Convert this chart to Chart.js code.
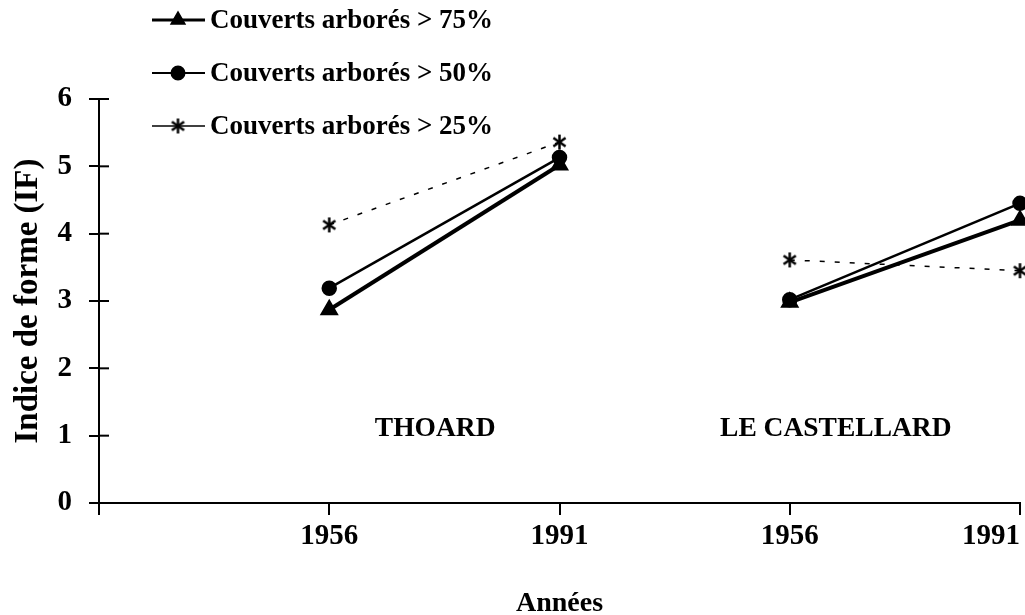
<!DOCTYPE html>
<html>
<head>
<meta charset="utf-8">
<script src="https://cdn.jsdelivr.net/npm/chart.js@4.4.1/dist/chart.umd.min.js"></script>
<style>
  html, body { margin: 0; padding: 0; background: #fff; }
</style>
</head>
<body>
<canvas id="chart" width="1025" height="615"></canvas>
<script>
// ===== Data =====
const years = ["", "1956", "1991", "1956", "1991"];
const sites = ["THOARD", "LE CASTELLARD"];
const seriesNames = ["Couverts arborés > 75%", "Couverts arborés > 50%", "Couverts arborés > 25%"];
const thoard75 = [2.87, 5.02];
const thoard50 = [3.19, 5.13];
const thoard25 = [4.13, 5.36];
const castellard75 = [2.98, 4.20];
const castellard50 = [3.02, 4.45];
const castellard25 = [3.61, 3.45];
const yTicks = [0, 1, 2, 3, 4, 5, 6];

const FONT = "'Liberation Serif', 'Times New Roman', serif";

// ===== Asterisk marker =====
function makeStar(size) {
  const c = document.createElement("canvas");
  c.width = size; c.height = size;
  const g = c.getContext("2d");
  const m = size / 2, r = size / 2 - 1;
  g.strokeStyle = "#000";
  g.lineWidth = 2.5;
  g.lineCap = "butt";
  [90, 35, -35].forEach(a => {
    const rad = a * Math.PI / 180;
    g.beginPath();
    g.moveTo(m - Math.cos(rad) * r, m - Math.sin(rad) * r);
    g.lineTo(m + Math.cos(rad) * r, m + Math.sin(rad) * r);
    g.stroke();
  });
  return c;
}
const starImg = makeStar(17);

// ===== Dataset helper =====
// index 0 is the empty category, Thoard = 1,2 / Le Castellard = 3,4
function series(label, a, b, style) {
  return Object.assign({
    label,
    data: [null, a[0], a[1], b[0], b[1]],
    borderColor: "#000",
    pointBackgroundColor: "#000",
    pointBorderColor: "#000",
    fill: false,
    tension: 0,
    clip: false,
    segment: {
      borderColor: ctx => ctx.p0DataIndex === 2 ? "rgba(0,0,0,0)" : undefined
    }
  }, style);
}

const datasets = [
  series(seriesNames[0], thoard75, castellard75, { borderWidth: 4, pointStyle: "triangle", pointRadius: 7 }),
  series(seriesNames[1], thoard50, castellard50, { borderWidth: 2.5, pointStyle: "circle", pointRadius: 6.5 }),
  series(seriesNames[2], thoard25, castellard25, { borderWidth: 1.5, borderDash: [5, 10], pointStyle: starImg, pointRadius: 7 })
];

// ===== Legend (top left, over the plot) =====
const legendPlugin = {
  id: "topLegend",
  afterDraw(chart) {
    const ctx = chart.ctx;
    const rows = [20, 73, 126];
    const widths = [3, 2, 1.5];
    ctx.save();
    chart.data.datasets.forEach((ds, i) => {
      const y = rows[i];
      ctx.strokeStyle = "#000";
      ctx.lineWidth = widths[i];
      ctx.setLineDash([]);
      ctx.beginPath();
      ctx.moveTo(152, y);
      ctx.lineTo(205, y);
      ctx.stroke();
      Chart.helpers.drawPoint(ctx, {
        pointStyle: ds.pointStyle, radius: 6.5, borderWidth: 1, rotation: 0
      }, 178, y);
      ctx.fillStyle = "#000";
      ctx.font = "bold 27px " + FONT;
      ctx.textBaseline = "middle";
      ctx.textAlign = "left";
      ctx.fillText(ds.label, 210, y + 1);
    });
    ctx.restore();
  }
};

// ===== Site labels + inner y ticks =====
const extrasPlugin = {
  id: "extras",
  afterDraw(chart) {
    const { ctx, scales: { x, y }, chartArea } = chart;
    ctx.save();
    ctx.fillStyle = "#000";
    ctx.font = "bold 27.5px " + FONT;
    ctx.textAlign = "center";
    ctx.textBaseline = "middle";
    ctx.fillText(sites[0], x.getPixelForValue(1.46), y.getPixelForValue(1.1));
    ctx.fillText(sites[1], x.getPixelForValue(3.2), y.getPixelForValue(1.1));
    ctx.strokeStyle = "#000";
    ctx.lineWidth = 2;
    yTicks.forEach(v => {
      const py = y.getPixelForValue(v);
      ctx.beginPath();
      ctx.moveTo(chartArea.left, py);
      ctx.lineTo(chartArea.left + 10, py);
      ctx.stroke();
    });
    ctx.restore();
  }
};

new Chart(document.getElementById("chart"), {
  type: "line",
  data: { labels: years, datasets },
  plugins: [legendPlugin, extrasPlugin],
  options: {
    responsive: false,
    animation: false,
    devicePixelRatio: 1,
    layout: { autoPadding: false, padding: { top: 99, right: 5, left: 0, bottom: 0 } },
    plugins: { legend: { display: false }, tooltip: { enabled: false } },
    scales: {
      x: {
        type: "category",
        offset: false,
        afterFit: s => { s.height = 112; s.paddingLeft = 0; s.paddingRight = 0; },
        grid: { display: true, drawOnChartArea: false, drawTicks: true, tickLength: 12, color: "#000", lineWidth: 2 },
        border: { display: true, color: "#000", width: 2 },
        ticks: {
          align: "inner",
          maxRotation: 0,
          autoSkip: false,
          padding: 4,
          color: "#000",
          font: { family: FONT, size: 29, weight: "bold" }
        },
        title: {
          display: true,
          text: "Années",
          color: "#000",
          font: { family: FONT, size: 28, weight: "bold", lineHeight: 0.8 },
          padding: { top: 0, bottom: 0 }
        }
      },
      y: {
        min: 0,
        max: 6,
        afterFit: s => { s.width = 99; s.paddingTop = 0; s.paddingBottom = 0; },
        afterBuildTicks: s => { s.ticks = yTicks.map(v => ({ value: v })); },
        grid: { display: true, drawOnChartArea: false, drawTicks: true, tickLength: 10, color: "#000", lineWidth: 2 },
        border: { display: true, color: "#000", width: 2 },
        ticks: {
          padding: 17,
          color: "#000",
          font: { family: FONT, size: 29, weight: "bold" }
        },
        title: {
          display: true,
          text: "Indice de forme (IF)",
          color: "#000",
          font: { family: FONT, size: 33, weight: "bold", lineHeight: 1.2 },
          padding: { top: 9, bottom: 0 }
        }
      }
    }
  }
});
</script>
</body>
</html>
